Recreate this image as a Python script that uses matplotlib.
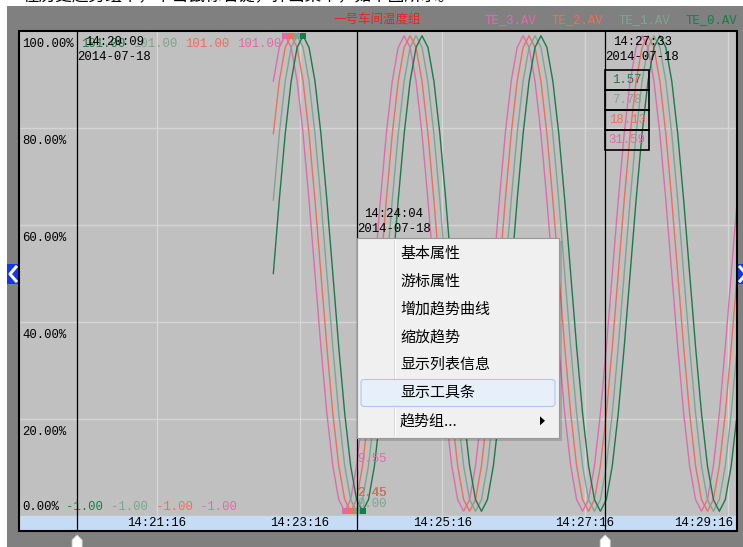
"""Historical trend group view (一号车间温度组) with the right-click menu open."""
import matplotlib

matplotlib.use("Agg")
import matplotlib.pyplot as plt
import numpy as np
from matplotlib.patches import FancyBboxPatch, Polygon, Rectangle

W, H = 743, 547
MONO = "Liberation Mono"
CJK = ["Noto Sans CJK SC", "DejaVu Sans"]
MONO_SIZE = 8.9
CHAR_W = MONO_SIZE * 100 / 72 * 0.6  # px advance of one mono character

TITLE = "一号车间温度组"
TOP_NOTE = "在历史趋势组中，单击鼠标右键，弹出菜单，如下图所示。"
DATE = "2014-07-18"
BASE_TIME = "14:21:16"
VIEW_START = "14:19:21"
VIEW_END = "14:29:23"
TICK_LABELS = ["14:21:16", "14:23:16", "14:25:16", "14:27:16", "14:29:16"]
Y_TICK_PCTS = [0, 20, 40, 60, 80, 100]
Y_MIN, Y_MAX = -1.0, 101.0

TAGS = ["TE_0.AV", "TE_1.AV", "TE_2.AV", "TE_3.AV"]
TAG_COLORS = ["#1b7a4b", "#7ea592", "#ef6e5c", "#e36aa9"]
RANGE_MAX = [101.00, 101.00, 101.00, 101.00]
RANGE_MIN = [-1.00, -1.00, -1.00, -1.00]

DATA_START = "14:22:54"
SAMPLE_STEP = 5  # seconds between samples

TE_3 = [
    90.45, 97.55,
    100.00, 97.55, 90.45, 79.39, 65.45, 50.00, 34.55, 20.61, 9.55, 2.45,
    0.00, 2.45, 9.55, 20.61, 34.55, 50.00, 65.45, 79.39, 90.45, 97.55,
    100.00, 97.55, 90.45, 79.39, 65.45, 50.00, 34.55, 20.61, 9.55, 2.45,
    0.00, 2.45, 9.55, 20.61, 34.55, 50.00, 65.45, 79.39, 90.45, 97.55,
    100.00, 97.55, 90.45, 79.39, 65.45, 50.00, 34.55, 20.61, 9.55, 2.45,
    0.00, 2.45, 9.55, 20.61, 34.55, 50.00, 65.45, 79.39, 90.45, 97.55,
    100.00, 97.55, 90.45, 79.39, 65.45, 50.00, 34.55, 20.61, 9.55, 2.45,
    0.00, 2.45, 9.55, 20.61, 34.55, 50.00, 65.45, 79.39,
]
TE_2 = [
    79.39, 90.45, 97.55,
    100.00, 97.55, 90.45, 79.39, 65.45, 50.00, 34.55, 20.61, 9.55, 2.45,
    0.00, 2.45, 9.55, 20.61, 34.55, 50.00, 65.45, 79.39, 90.45, 97.55,
    100.00, 97.55, 90.45, 79.39, 65.45, 50.00, 34.55, 20.61, 9.55, 2.45,
    0.00, 2.45, 9.55, 20.61, 34.55, 50.00, 65.45, 79.39, 90.45, 97.55,
    100.00, 97.55, 90.45, 79.39, 65.45, 50.00, 34.55, 20.61, 9.55, 2.45,
    0.00, 2.45, 9.55, 20.61, 34.55, 50.00, 65.45, 79.39, 90.45, 97.55,
    100.00, 97.55, 90.45, 79.39, 65.45, 50.00, 34.55, 20.61, 9.55, 2.45,
    0.00, 2.45, 9.55, 20.61, 34.55, 50.00, 65.45,
]
TE_1 = [
    65.45, 79.39, 90.45, 97.55,
    100.00, 97.55, 90.45, 79.39, 65.45, 50.00, 34.55, 20.61, 9.55, 2.45,
    0.00, 2.45, 9.55, 20.61, 34.55, 50.00, 65.45, 79.39, 90.45, 97.55,
    100.00, 97.55, 90.45, 79.39, 65.45, 50.00, 34.55, 20.61, 9.55, 2.45,
    0.00, 2.45, 9.55, 20.61, 34.55, 50.00, 65.45, 79.39, 90.45, 97.55,
    100.00, 97.55, 90.45, 79.39, 65.45, 50.00, 34.55, 20.61, 9.55, 2.45,
    0.00, 2.45, 9.55, 20.61, 34.55, 50.00, 65.45, 79.39, 90.45, 97.55,
    100.00, 97.55, 90.45, 79.39, 65.45, 50.00, 34.55, 20.61, 9.55, 2.45,
    0.00, 2.45, 9.55, 20.61, 34.55, 50.00,
]
TE_0 = [
    50.00, 65.45, 79.39, 90.45, 97.55,
    100.00, 97.55, 90.45, 79.39, 65.45, 50.00, 34.55, 20.61, 9.55, 2.45,
    0.00, 2.45, 9.55, 20.61, 34.55, 50.00, 65.45, 79.39, 90.45, 97.55,
    100.00, 97.55, 90.45, 79.39, 65.45, 50.00, 34.55, 20.61, 9.55, 2.45,
    0.00, 2.45, 9.55, 20.61, 34.55, 50.00, 65.45, 79.39, 90.45, 97.55,
    100.00, 97.55, 90.45, 79.39, 65.45, 50.00, 34.55, 20.61, 9.55, 2.45,
    0.00, 2.45, 9.55, 20.61, 34.55, 50.00, 65.45, 79.39, 90.45, 97.55,
    100.00, 97.55, 90.45, 79.39, 65.45, 50.00, 34.55, 20.61, 9.55, 2.45,
    0.00, 2.45, 9.55, 20.61, 34.55,
]

CURSOR_TIMES = ["14:20:09", "14:24:04", "14:27:33"]
CURSOR_LABEL_Y = [42, 214, 42]
CURSOR2_VALUES = [2.45, 0.00, 2.45, 9.55]  # TE_0..TE_3 at 14:24:04
CURSOR3_VALUES = [1.57, 7.78, 18.13, 31.59]  # TE_0..TE_3 at 14:27:33

MENU_ITEMS = ["基本属性", "游标属性", "增加趋势曲线", "缩放趋势",
              "显示列表信息", "显示工具条", "趋势组..."]
MENU_HOVER = 5
MENU_SUBMENU = 6


def to_sec(hms):
    h, m, s = (int(p) for p in hms.split(":"))
    return h * 3600 + m * 60 + s


def secs(hms):
    return to_sec(hms) - to_sec(BASE_TIME)


def rect_frac(x0, y0, x1, y1):
    return [x0 / W, 1 - y1 / H, (x1 - x0) / W, (y1 - y0) / H]


fig = plt.figure(figsize=(W / 100, H / 100), dpi=100)
fig.patch.set_facecolor("white")


def pixel_axes(zorder):
    a = fig.add_axes([0, 0, 1, 1], zorder=zorder)
    a.set_xlim(0, W)
    a.set_ylim(H, 0)
    a.axis("off")
    return a


back = pixel_axes(-2)
back.add_patch(Rectangle((7, 6), W, H, facecolor="#808080", edgecolor="none"))
# caption line of the page above the screenshot, mostly cropped away
back.text(22, 4.5, TOP_NOTE, fontsize=12, family=CJK, va="bottom", color="black")

# plot area
ax = fig.add_axes(rect_frac(20, 31, 736, 516))
ax.set_facecolor("#c0c0c0")
ax.set_xlim(secs(VIEW_START), secs(VIEW_END))
ax.set_ylim(Y_MIN, Y_MAX)
ax.set_xticks([secs(t) for t in TICK_LABELS])
ax.set_yticks([Y_MIN + (Y_MAX - Y_MIN) * p / 100 for p in Y_TICK_PCTS])
ax.tick_params(length=0, labelbottom=False, labelleft=False)
ax.grid(True, color="#d5d5d5", linewidth=1)
for spine in ax.spines.values():
    spine.set_visible(False)

series = [TE_0, TE_1, TE_2, TE_3]
times = secs(DATA_START) + SAMPLE_STEP * np.arange(len(TE_0))
for vals, color in zip(series[::-1], TAG_COLORS[::-1]):
    vals = np.array(vals)
    ax.plot(times, vals, color=color, linewidth=1.0, zorder=2)
for vals, color in zip(series, TAG_COLORS):
    vals = np.array(vals)
    for idx in (np.argmax(vals), np.argmin(vals)):
        ax.plot(times[idx], vals[idx], marker="s", markersize=4.4, color=color,
                markeredgewidth=0, linestyle="none", clip_on=False, zorder=3)

# time band
band = fig.add_axes(rect_frac(20, 516, 736, 530))
band.set_facecolor("#c6dcf4")
band.set_xticks([])
band.set_yticks([])
for spine in band.spines.values():
    spine.set_visible(False)

ui = pixel_axes(5)


def px(t):
    return ax.transData.transform((t, Y_MIN))[0]


def py(v):
    return H - ax.transData.transform((secs(VIEW_START), v))[1]


mono = dict(family=MONO, fontsize=MONO_SIZE)

for lab in TICK_LABELS:
    x = px(secs(lab))
    half = len(lab) * CHAR_W / 2
    if x + half > 733:
        ui.text(733, 523, lab, ha="right", va="center", **mono)
    else:
        ui.text(x, 523, lab, ha="center", va="center", **mono)

ui.add_patch(Rectangle((19, 31), 718, 500, fill=False, edgecolor="black", linewidth=1.5))

# y labels and per-tag ranges
for p in Y_TICK_PCTS:
    yl = py(Y_MIN + (Y_MAX - Y_MIN) * p / 100)
    y = yl + 13 if p else yl - 9
    ui.text(22, y, f"{p:.2f}%", va="center", **mono)

x0 = 22 + CHAR_W * (len("100.00%") + 1)
for i, (v, c) in enumerate(zip(RANGE_MAX, TAG_COLORS)):
    ui.text(x0 + 7 * CHAR_W * i, 44, f"{v:.2f}", color=c, va="center", **mono)
x0 = 22 + CHAR_W * (len("0.00%") + 1)
for i, (v, c) in enumerate(zip(RANGE_MIN, TAG_COLORS)):
    ui.text(x0 + 6 * CHAR_W * i, 507, f"{v:.2f}", color=c, va="center", **mono)

# title and legend
ui.text(377, 20, TITLE, color="#ee2222", fontsize=9, family=CJK, ha="center", va="center")
n_chars = sum(len(t) for t in TAGS) + 2 * (len(TAGS) - 1)
lx = 737 - CHAR_W * n_chars
for j, (tag, c) in enumerate(zip(TAGS[::-1], TAG_COLORS[::-1])):
    ui.text(lx + 9 * CHAR_W * j, 20, tag, color=c, va="center", **mono)

# cursors
cursor_x = [px(secs(t)) for t in CURSOR_TIMES]
for x, t, ly in zip(cursor_x, CURSOR_TIMES, CURSOR_LABEL_Y):
    ui.plot([x, x], [32, 530], color="black", linewidth=0.9, zorder=3)
    cx = x + 5 * CHAR_W
    ui.text(cx, ly, t, ha="center", va="center", **mono)
    ui.text(cx, ly + 14.5, DATE, ha="center", va="center", **mono)

x2 = cursor_x[1]
for v, c in zip(CURSOR2_VALUES, TAG_COLORS):
    ui.text(x2 + 1, py(v) - 1, f"{v:.2f}", color=c, va="bottom", **mono)

x3 = cursor_x[2]
for i, (v, c) in enumerate(zip(CURSOR3_VALUES, TAG_COLORS)):
    y0 = 70 + 20 * i
    ui.add_patch(Rectangle((x3, y0), 44, 20, fill=False, edgecolor="black", linewidth=1.2))
    ui.text(x3 + 22, y0 + 10, f"{v:.2f}", color=c, ha="center", va="center", **mono)

# slider handles under cursors 1 and 3
for x in (cursor_x[0], cursor_x[2]):
    ui.add_patch(Polygon([(x - 5, 548), (x - 5, 540), (x, 535), (x + 5, 540), (x + 5, 548)],
                         closed=True, facecolor="white", edgecolor="#d0d0d0", linewidth=0.6))

# scroll buttons
for bx, pts in ((7, [(16, 267), (10, 274), (16, 281)]),
                (738, [(740, 267), (746, 274), (740, 281)])):
    ui.add_patch(Rectangle((bx, 264), 11, 20, facecolor="#1236f2", edgecolor="none"))
    ui.plot([p[0] for p in pts], [p[1] for p in pts], color="white", linewidth=2.2)

# context menu
mx0, my0, mx1, my1 = 357, 238, 559, 438
ui.add_patch(Rectangle((mx0 + 3, my0 + 3), mx1 - mx0, my1 - my0, facecolor="black",
                       alpha=0.15, edgecolor="none", zorder=9))
ui.add_patch(Rectangle((mx0, my0), mx1 - mx0, my1 - my0, facecolor="#f0f0f0",
                       edgecolor="#979797", linewidth=0.8, zorder=10))
ui.plot([394, 394], [my0 + 2, my1 - 2], color="#dcdcdc", linewidth=0.8, zorder=11)
ui.plot([395, 395], [my0 + 2, my1 - 2], color="white", linewidth=0.8, zorder=11)
item_y = [254 + 27.8 * i for i in range(len(MENU_ITEMS))]
hy = item_y[MENU_HOVER]
ui.add_patch(FancyBboxPatch((361, hy - 13.5), 194, 27, boxstyle="round,pad=0,rounding_size=3",
                            facecolor="#e6effa", edgecolor="#a9c9ef", linewidth=0.8, zorder=11))
for y, item in zip(item_y, MENU_ITEMS):
    ui.text(400, y, item, fontsize=10.8, family=CJK, va="center", color="black", zorder=12)
sy = item_y[MENU_SUBMENU]
ui.add_patch(Polygon([(540, sy - 4.5), (540, sy + 4.5), (545, sy)], closed=True,
                     facecolor="black", edgecolor="none", zorder=12))

fig.savefig("out.png", dpi=100)
